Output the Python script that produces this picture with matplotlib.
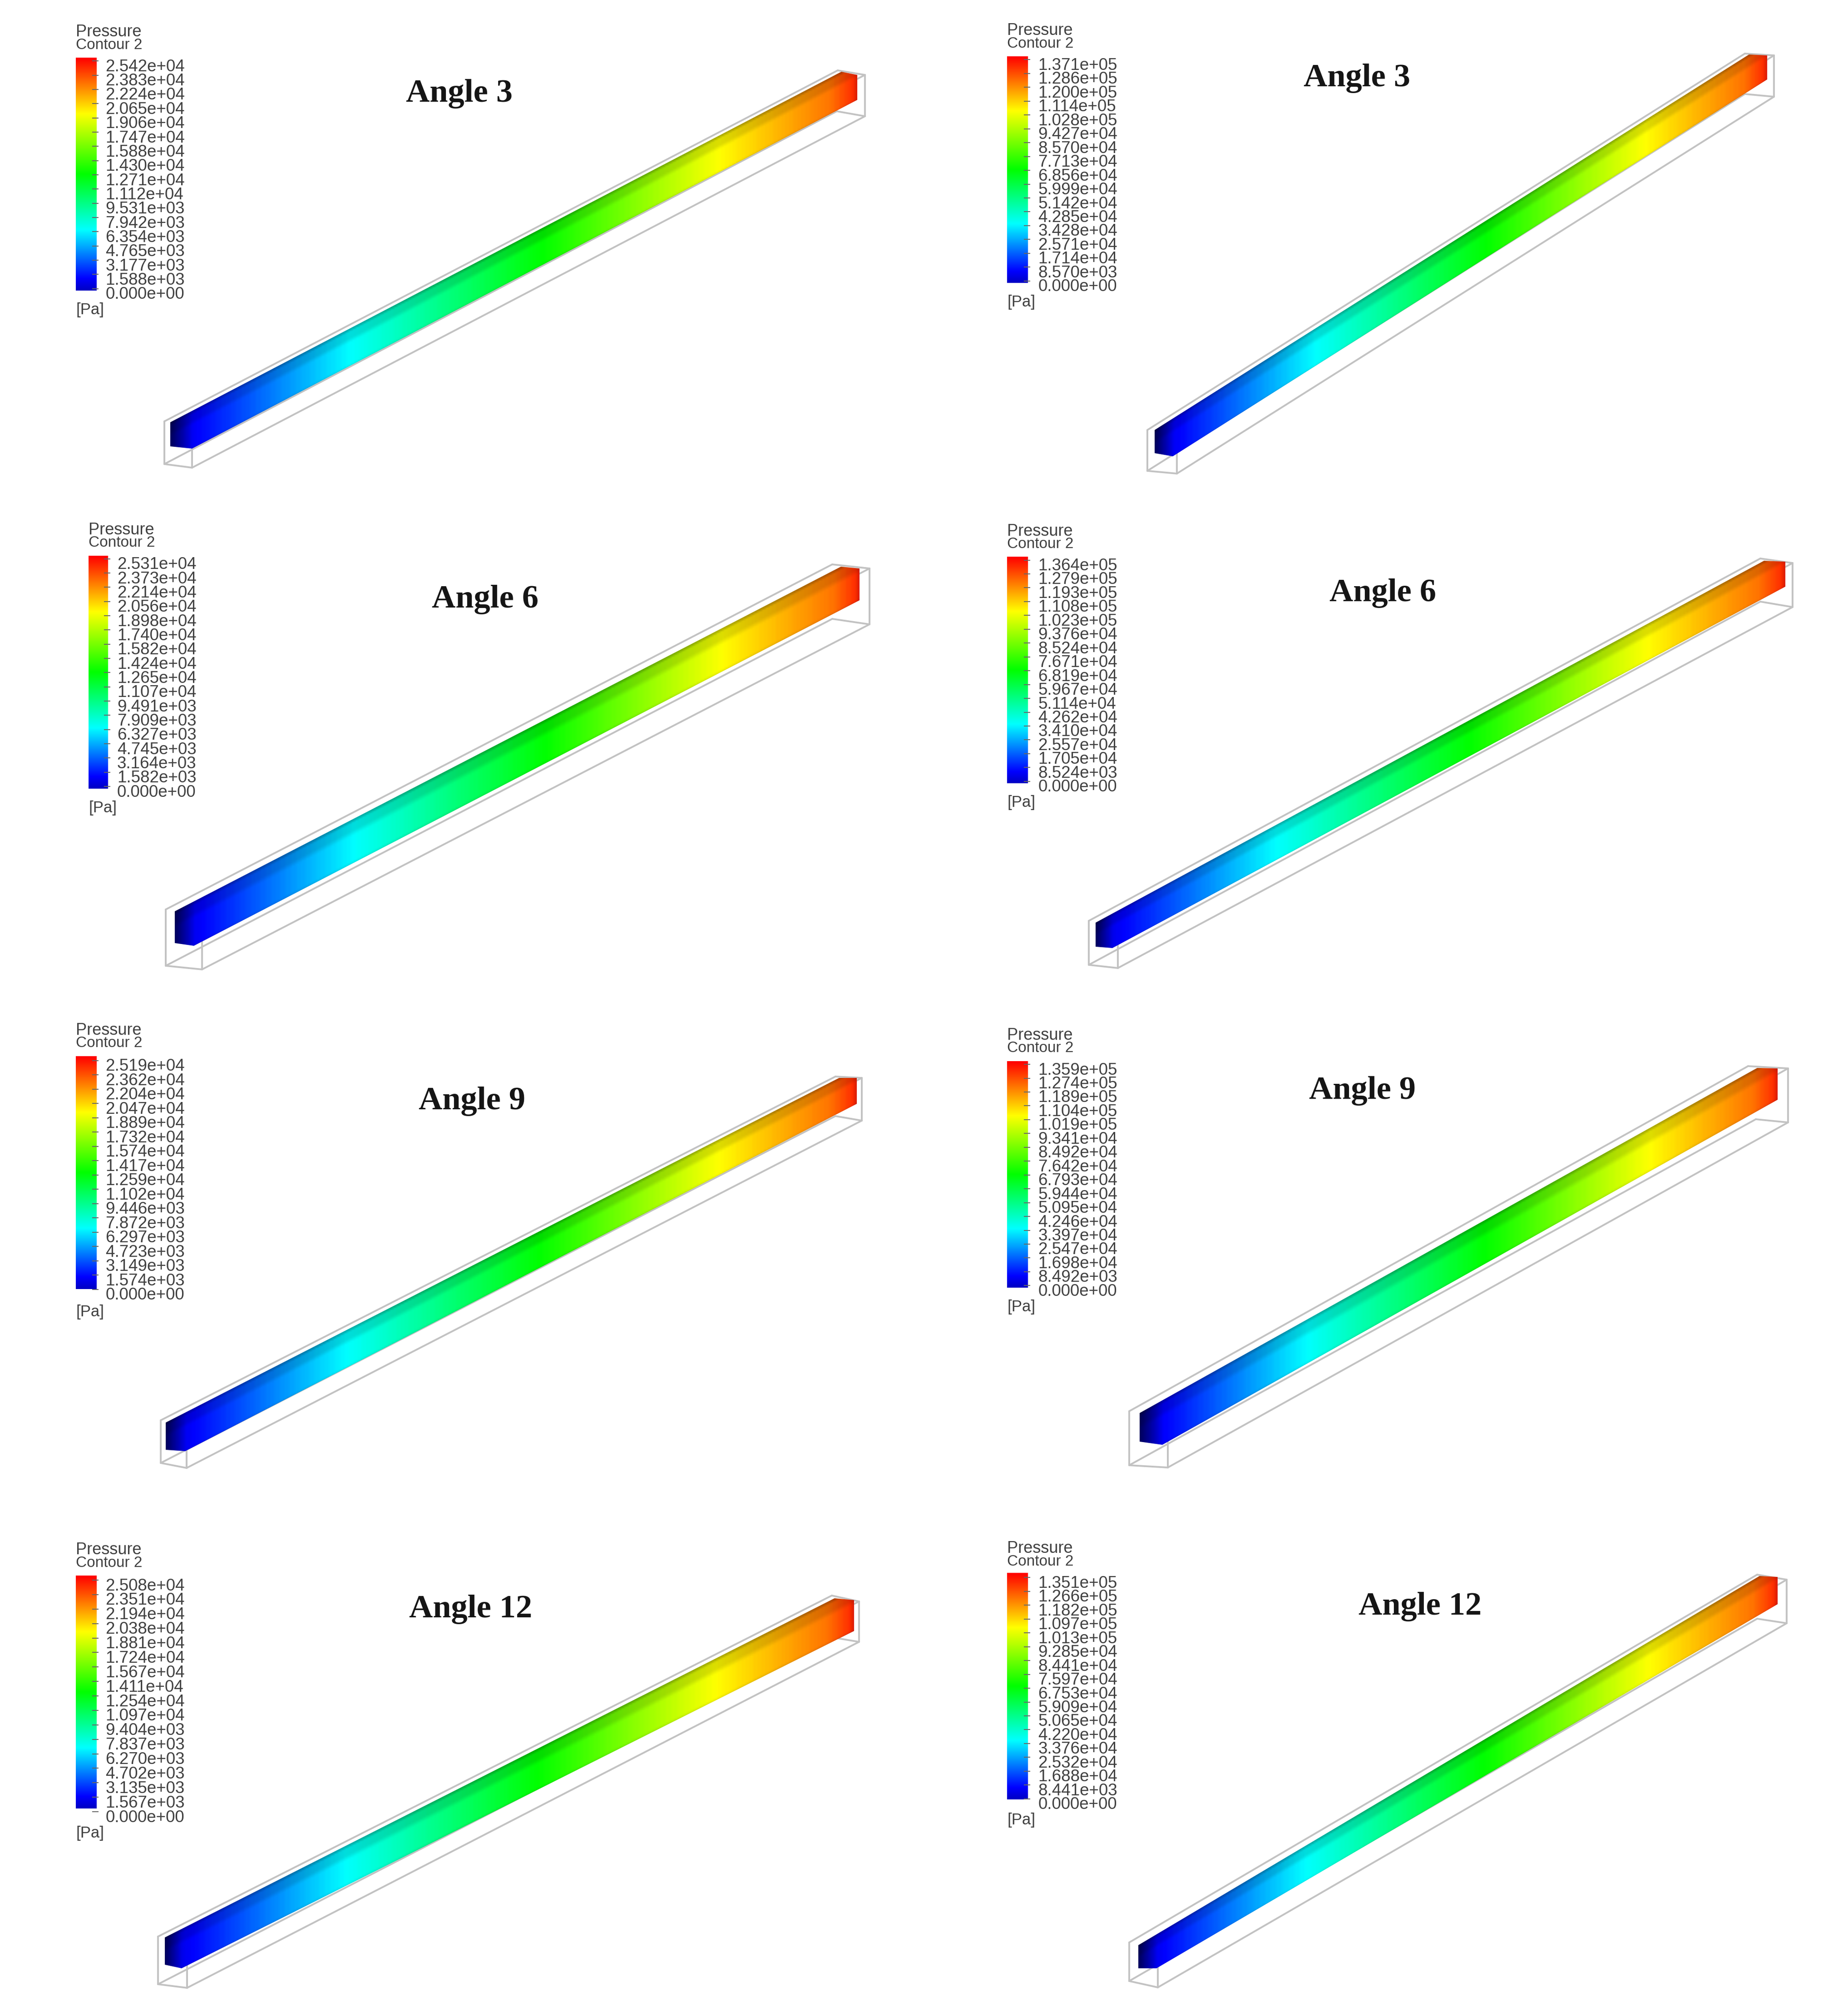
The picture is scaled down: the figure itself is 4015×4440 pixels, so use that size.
import numpy as np
import matplotlib
matplotlib.use("Agg")
import matplotlib.pyplot as plt
from matplotlib.colors import LinearSegmentedColormap
from matplotlib.patches import Polygon

# ---- data: legend values (Pa), top to bottom
angles = ["Angle 3", "Angle 3", "Angle 6", "Angle 6", "Angle 9", "Angle 9", "Angle 12", "Angle 12"]
legend_a3_low = ["2.542e+04","2.383e+04","2.224e+04","2.065e+04","1.906e+04","1.747e+04","1.588e+04","1.430e+04","1.271e+04","1.112e+04","9.531e+03","7.942e+03","6.354e+03","4.765e+03","3.177e+03","1.588e+03","0.000e+00"]
legend_a3_high = ["1.371e+05","1.286e+05","1.200e+05","1.114e+05","1.028e+05","9.427e+04","8.570e+04","7.713e+04","6.856e+04","5.999e+04","5.142e+04","4.285e+04","3.428e+04","2.571e+04","1.714e+04","8.570e+03","0.000e+00"]
legend_a6_low = ["2.531e+04","2.373e+04","2.214e+04","2.056e+04","1.898e+04","1.740e+04","1.582e+04","1.424e+04","1.265e+04","1.107e+04","9.491e+03","7.909e+03","6.327e+03","4.745e+03","3.164e+03","1.582e+03","0.000e+00"]
legend_a6_high = ["1.364e+05","1.279e+05","1.193e+05","1.108e+05","1.023e+05","9.376e+04","8.524e+04","7.671e+04","6.819e+04","5.967e+04","5.114e+04","4.262e+04","3.410e+04","2.557e+04","1.705e+04","8.524e+03","0.000e+00"]
legend_a9_low = ["2.519e+04","2.362e+04","2.204e+04","2.047e+04","1.889e+04","1.732e+04","1.574e+04","1.417e+04","1.259e+04","1.102e+04","9.446e+03","7.872e+03","6.297e+03","4.723e+03","3.149e+03","1.574e+03","0.000e+00"]
legend_a9_high = ["1.359e+05","1.274e+05","1.189e+05","1.104e+05","1.019e+05","9.341e+04","8.492e+04","7.642e+04","6.793e+04","5.944e+04","5.095e+04","4.246e+04","3.397e+04","2.547e+04","1.698e+04","8.492e+03","0.000e+00"]
legend_a12_low = ["2.508e+04","2.351e+04","2.194e+04","2.038e+04","1.881e+04","1.724e+04","1.567e+04","1.411e+04","1.254e+04","1.097e+04","9.404e+03","7.837e+03","6.270e+03","4.702e+03","3.135e+03","1.567e+03","0.000e+00"]
legend_a12_high = ["1.351e+05","1.266e+05","1.182e+05","1.097e+05","1.013e+05","9.285e+04","8.441e+04","7.597e+04","6.753e+04","5.909e+04","5.065e+04","4.220e+04","3.376e+04","2.532e+04","1.688e+04","8.441e+03","0.000e+00"]
legends = [legend_a3_low, legend_a3_high, legend_a6_low, legend_a6_high,
           legend_a9_low, legend_a9_high, legend_a12_low, legend_a12_high]

# ---- layout (pixels of the 4016x4440 canvas)
W, H = 4016, 4440
SX, SY = 2.833, 2.833
# legend: bar x0, bar x1, bar top, bar bottom, header y1, header y2, label x, first y, last y, unit y
legend_geo = [
    (59, 75, 45, 226, 25, 35, 82, 52, 229, 241),
    (783, 799, 44, 220, 24, 34, 807, 51, 223, 235),
    (69, 84, 432, 613, 412, 422, 91, 439, 616, 628),
    (783, 799, 433, 609, 413, 423, 807, 440, 612, 624),
    (59, 75, 821, 1002, 801, 811, 82, 829, 1007, 1020),
    (783, 799, 825, 1001, 805, 815, 807, 832, 1004, 1016),
    (59, 75, 1225, 1406, 1205, 1215, 82, 1233, 1413, 1425),
    (783, 799, 1223, 1399, 1204, 1214, 807, 1231, 1403, 1415),
]
title_geo = [(357, 73), (1055, 61), (377, 466), (1075, 461), (367, 856), (1059, 848), (366, 1251), (1104, 1249)]
# beam outline: near top-left, near bottom-left, near bottom-right, far top-left, far top-right, far bottom-right
beam_geo = [
    ((375, 930), (375, 983), (423, 988), (1853, 158), (1888, 165), (1888, 220)),
    ((2543, 947), (2543, 998), (2583, 1005), (3852, 120), (3892, 122), (3892, 175)),
    ((385, 2007), (385, 2077), (427, 2083), (1852, 1248), (1893, 1252), (1893, 1322)),
    ((2413, 2032), (2413, 2085), (2450, 2088), (3885, 1235), (3932, 1237), (3932, 1292)),
    ((365, 3133), (365, 3193), (408, 3196), (1848, 2374), (1887, 2374), (1887, 2431)),
    ((2510, 3112), (2510, 3175), (2560, 3182), (3870, 2352), (3915, 2353), (3915, 2422)),
    ((363, 4267), (363, 4327), (400, 4335), (1838, 3520), (1881, 3524), (1881, 3592)),
    ((2507, 4284), (2507, 4335), (2547, 4335), (3875, 3471), (3915, 3473), (3915, 3533)),
]
# wire box: near TL, BL, BR, TR; far TL, BL, BR, TR
box_geo = [
    ((362, 928), (362, 1022), (423, 1030), (423, 935), (1845, 155), (1843, 245), (1905, 256), (1905, 165)),
    ((2527, 947), (2527, 1037), (2592, 1043), (2592, 950), (3843, 118), (3843, 207), (3907, 213), (3907, 122)),
    ((365, 2003), (365, 2127), (445, 2135), (445, 2015), (1833, 1243), (1833, 1363), (1915, 1375), (1915, 1252)),
    ((2398, 2028), (2398, 2125), (2462, 2132), (2462, 2040), (3877, 1230), (3877, 1325), (3948, 1337), (3948, 1240)),
    ((354, 3128), (354, 3222), (411, 3233), (411, 3140), (1840, 2371), (1840, 2458), (1898, 2468), (1898, 2374)),
    ((2487, 3108), (2487, 3227), (2572, 3232), (2572, 3120), (3850, 2348), (3867, 2465), (3938, 2472), (3938, 2353)),
    ((348, 4265), (348, 4370), (412, 4378), (412, 4275), (1832, 3514), (1832, 3606), (1892, 3616), (1892, 3527)),
    ((2487, 4278), (2487, 4363), (2550, 4377), (2550, 4290), (3870, 3468), (3870, 3565), (3935, 3575), (3935, 3479)),
]

cmap = LinearSegmentedColormap.from_list(
    "ansys", [(0.0, "#0000c4"), (0.05, "#0000ff"), (0.26, "#00ffff"), (0.5, "#00ff00"),
              (0.76, "#ffff00"), (1.0, "#ff0000")])

plt.rcParams["font.family"] = ["Liberation Sans", "DejaVu Sans"]
fig = plt.figure(figsize=(W / 100, H / 100), dpi=100, facecolor="white")
ax = fig.add_axes([0, 0, 1, 1])
ax.set_xlim(0, W)
ax.set_ylim(H, 0)
ax.axis("off")

TXT = "#404040"
grad = np.linspace(1, 0, 256).reshape(-1, 1)

for labels, lg in zip(legends, legend_geo):
    x0, x1, top, bot, h1, h2, lx, y0, y1, uy = lg
    ax.imshow(grad, cmap=cmap, vmin=0, vmax=1, aspect="auto",
              extent=(x0 * SX, x1 * SX, bot * SY, top * SY), zorder=2)
    ax.text(x0 * SX, h1 * SY, "Pressure", fontsize=26, color=TXT, va="center", ha="left")
    ax.text(x0 * SX, h2 * SY, "Contour 2", fontsize=24, color=TXT, va="center", ha="left")
    ax.text(x0 * SX, uy * SY, "[Pa]", fontsize=25, color=TXT, va="center", ha="left")
    ys = np.linspace(y0, y1, len(labels)) * SY
    for s, y in zip(labels, ys):
        ax.text(lx * SX, y, s, fontsize=26.5, color=TXT, va="center", ha="left")
        ax.plot([x1 * SX - 8, x1 * SX + 4], [y - 13, y - 13], color="#666666", lw=1.4, zorder=3)

for name, tg in zip(angles, title_geo):
    ax.text(tg[0] * SX, tg[1] * SY, name, fontsize=52, family="Liberation Serif",
            weight="bold", color="#151515", ha="center", va="center")

box_col = "#c2c2c2"
for b in box_geo:
    ntl, nbl, nbr, ntr, ftl, fbl, fbr, ftr = b
    for a, c in [(ntl, nbl), (nbl, nbr), (nbr, ntr), (ftl, ftr), (ftr, fbr), (fbr, fbl),
                 (ntl, ftl), (nbl, fbl), (nbr, fbr), (ntr, ftr)]:
        ax.plot([a[0], c[0]], [a[1], c[1]], color=box_col, lw=2.8, zorder=4,
                solid_capstyle="round")

for g in beam_geo:
    p0, p1, p2, q0, q1, q2 = g
    xs = np.arange(p0[0] - 6, q1[0] + 6, 4.0)
    ymin, ymax = min(q0[1], q1[1]) - 6, max(p1[1], p2[1]) + 6
    ys = np.arange(ymin, ymax, 4.0)
    X, Y = np.meshgrid(xs, ys)
    t = np.clip((X - p0[0]) / (q1[0] - p0[0]), 0, 1)
    val = np.interp(t, [0, 0.26, 0.54, 0.80, 0.96, 1.0], [0.015, 0.26, 0.5, 0.76, 0.89, 0.97])
    rgb = cmap(val)[..., :3]
    # position across the beam width: 0 on the upper edge, 1 on the lower edge
    ytop = p0[1] + (q0[1] - p0[1]) * (X - p0[0]) / (q0[0] - p0[0])
    ybot = p2[1] + (q2[1] - p2[1]) * (X - p2[0]) / (q2[0] - p2[0])
    s = (Y - ytop) / (ybot - ytop)
    band = np.clip((s - 0.22) / 0.12, 0, 1)
    shade = 0.87 + 0.13 * band
    shade *= 1 - 0.18 * np.clip((s - 0.92) / 0.08, 0, 1)
    shade *= 1 - 0.22 * np.clip((0.05 - s) / 0.05, 0, 1)
    # darker near face and far end edge
    w = p2[0] - p0[0]
    shade *= 0.45 + 0.55 * np.clip((X - p0[0]) / w, 0, 1)
    shade *= 1 - 0.18 * np.clip((X - (q1[0] - 12)) / 12, 0, 1)
    img = rgb * shade[..., None]
    im = ax.imshow(img, extent=(xs[0], xs[-1] + 4, ys[-1] + 4, ys[0]), aspect="auto",
                   interpolation="bilinear", zorder=5)
    hexa = Polygon([p0, p1, p2, q2, q1, q0], closed=True, transform=ax.transData,
                   fc="none", ec="none")
    ax.add_patch(hexa)
    im.set_clip_path(hexa)

ax.set_xlim(0, W)
ax.set_ylim(H, 0)
fig.savefig("out.png", dpi=100, facecolor="white")
